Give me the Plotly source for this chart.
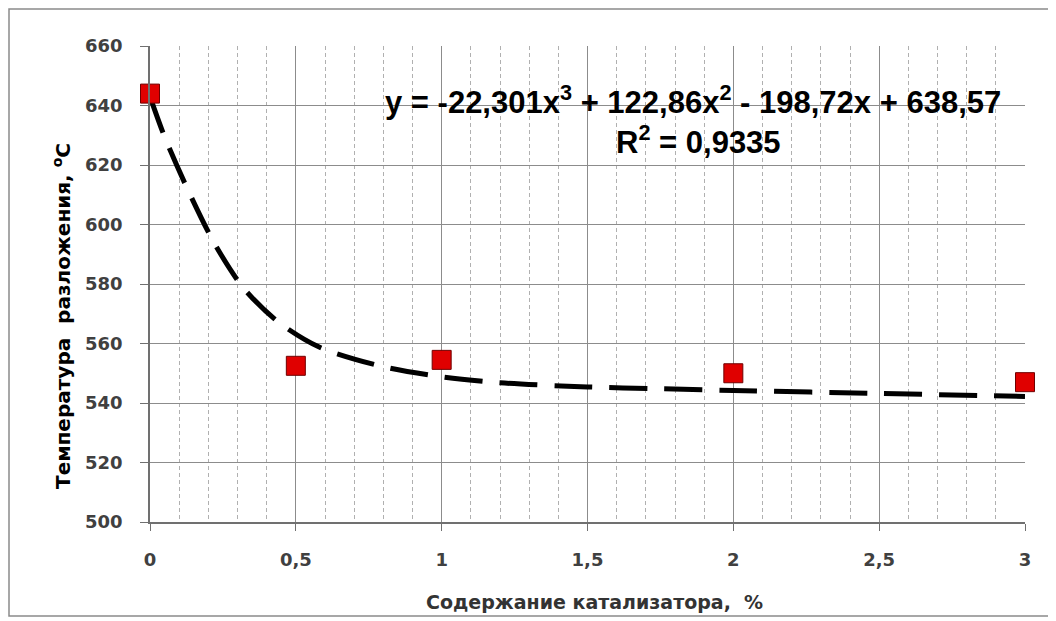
import plotly.graph_objects as go

# Experimental points
catalyst = [0, 0.5, 1, 2, 3]
temperature = [644, 552.5, 554.5, 550, 547]

# Trend line
trend_x = [0, 0.05, 0.13, 0.22, 0.32, 0.44, 0.58, 0.8, 1.0, 1.2, 1.5, 1.75, 2.0, 2.5, 3.0]
trend_y = [643, 629.5, 611.6, 593.8, 578.7, 567.2, 558.8, 552.2, 548.8, 546.8, 545.4, 544.8, 544.2, 543.2, 542.2]

equation = "y = -22,301x<sup>3</sup> + 122,86x<sup>2</sup> - 198,72x + 638,57"
r2_text = "R<sup>2</sup> = 0,9335"

x_title = "Содержание катализатора,  %"
y_title = "Температура  разложения, <sup>о</sup>С"

fig = go.Figure()

fig.add_trace(go.Scatter(
    x=trend_x, y=trend_y, mode="lines",
    line=dict(color="black", width=5, dash="38px,17px", shape="spline", smoothing=0.8),
    showlegend=False, hoverinfo="skip"))

fig.add_trace(go.Scatter(
    x=catalyst, y=temperature, mode="markers",
    marker=dict(symbol="square", size=19, color="#e00000",
                line=dict(color="#700000", width=1)),
    showlegend=False, cliponaxis=False))

fig.add_annotation(x=1.862, y=641.8, xref="x", yref="y", text=equation, showarrow=False,
                   font=dict(family="Liberation Sans", size=31, color="black", weight="bold"))
fig.add_annotation(x=1.88, y=628.4, xref="x", yref="y", text=r2_text, showarrow=False,
                   font=dict(family="Liberation Sans", size=31, color="black", weight="bold"))

# axis titles
fig.add_annotation(x=(62 - 150) / 875, y=(522 - 316) / 476, xref="paper", yref="paper",
                   xanchor="center", yanchor="middle",
                   text=y_title, textangle=-90, showarrow=False,
                   font=dict(family="DejaVu Sans", size=20, color="black", weight="bold"))
fig.add_annotation(x=(594 - 150) / 875, y=(522 - 602) / 476, xref="paper", yref="paper",
                   xanchor="center", yanchor="middle",
                   text=x_title, showarrow=False,
                   font=dict(family="DejaVu Sans", size=19, color="#333333", weight="bold"))

# outer frame
fig.add_shape(type="rect", xref="paper", yref="paper",
              x0=(9 - 150) / 875, x1=(1050 - 150) / 875,
              y0=(522 - 616) / 476, y1=(522 - 9) / 476,
              line=dict(color="#8a8a8a", width=1.5), fillcolor="rgba(0,0,0,0)", layer="below")

tick_font = dict(family="DejaVu Sans", size=18, color="#404040", weight="bold")

fig.update_layout(
    width=1048, height=613,
    margin=dict(l=142, r=31, t=38, b=99),
    paper_bgcolor="white", plot_bgcolor="white",
    xaxis=dict(
        range=[0, 3],
        tickvals=[0, 0.5, 1, 1.5, 2, 2.5, 3],
        ticktext=["0", "0,5", "1", "1,5", "2", "2,5", "3"],
        showgrid=True, gridcolor="#8c8c8c", gridwidth=1.2,
        showline=True, linecolor="#707070", linewidth=1.5,
        ticks="outside", ticklen=7, tickcolor="#707070",
        tickfont=tick_font, zeroline=False, ticklabelstandoff=14,
        minor=dict(dtick=0.1, showgrid=True, gridcolor="#b0b0b0", griddash="4px,3px", gridwidth=1),
    ),
    yaxis=dict(
        range=[500, 660], dtick=20,
        showgrid=True, gridcolor="#8c8c8c", gridwidth=1.2,
        showline=True, linecolor="#707070", linewidth=1.5,
        ticks="outside", ticklen=8, tickcolor="#707070",
        tickfont=tick_font, zeroline=False, ticklabelstandoff=14,
    ),
)

fig.write_html("out.html")
